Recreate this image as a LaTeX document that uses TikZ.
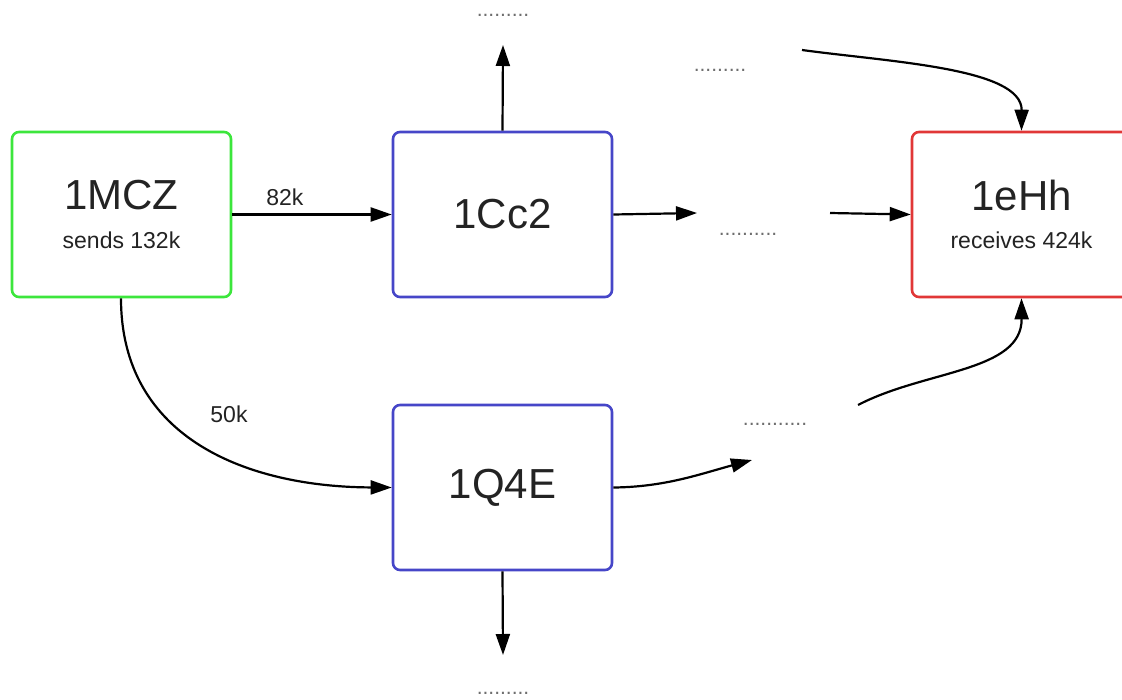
\documentclass[tikz,border=0pt]{standalone}
\usepackage{fontspec}
\setmainfont{Liberation Sans}
\usetikzlibrary{arrows.meta}
\definecolor{boxgreen}{RGB}{60,230,60}
\definecolor{boxblue}{RGB}{70,70,200}
\definecolor{boxred}{RGB}{225,55,55}
\definecolor{ink}{RGB}{35,35,35}
\definecolor{dotgray}{RGB}{110,110,110}
\tikzset{
  flowbox/.style={draw, line width=2.6pt, rounded corners=7pt, minimum width=219pt,
    minimum height=165pt, inner sep=0pt, fill=white, text=ink, align=center},
  bigname/.style={font=\fontsize{42}{48}\selectfont},
  flow/.style={line width=2.2pt, draw=black, -{Triangle[length=21pt,width=14pt]}},
  edgelabel/.style={text=ink, font=\fontsize{23}{26}\selectfont},
  elide/.style={text=dotgray, font=\fontsize{21}{22}\selectfont, inner sep=0pt}
}
\begin{document}
\begin{tikzpicture}[x=1pt,y=-1pt]
\useasboundingbox (0,0) rectangle (1122,699);
\clip (0,0) rectangle (1122,699);

% boxes
\node[flowbox, draw=boxgreen] (mcz) at (121.5,214.5) {};
\node[text=ink, bigname] (mczname) at (121.5,195) {1MCZ};
\node[edgelabel] (mczsub) at (121.5,240) {sends 132k};

\node[flowbox, draw=boxblue, bigname] (cc2) at (502.5,214.5) {1Cc2};
\node[flowbox, draw=boxblue, bigname] (q4e) at (502.5,487.5) {1Q4E};

\node[flowbox, draw=boxred] (ehh) at (1021.5,214.5) {};
\node[text=ink, bigname] (ehhname) at (1021.5,195) {1eHh};
\node[edgelabel] (ehhsub) at (1021.5,240) {receives 424k};

% elided continuations
\node[elide] (dtop) at (503,15) {.........};
\node[elide] (dnorth) at (720,70) {.........};
\node[elide] (dmid) at (748,234) {..........};
\node[elide] (dsouth) at (775,424) {...........};
\node[elide] (dbot) at (503,693) {.........};

% free ends of the open connectors
\coordinate (cc2up) at (503,45);
\coordinate (cc2out) at (697,213);
\coordinate (midin) at (830,213);
\coordinate (northin) at (802,50);
\coordinate (q4eout) at (752,460);
\coordinate (southin) at (858,405);
\coordinate (q4edown) at (503,655);

% connectors
\draw[flow] (mcz.east) -- (cc2.west) node[edgelabel, pos=0.33, above=4pt] (l82) {82k};
\draw[flow] (cc2.north) -- (cc2up);
\draw[flow] (cc2.east) -- (cc2out);
\draw[flow] (midin) -- (ehh.west);
\draw[flow] (northin) .. controls (890,62) and (1022,68) .. (ehh.north);
\draw[flow] (mcz.south -| 121,0) .. controls (121,440) and (250,487) .. (q4e.west);
\node[edgelabel] (l50) at (229,414) {50k};
\draw[flow] (q4e.east) .. controls (665,487) and (700,474) .. (q4eout);
\draw[flow] (southin) .. controls (925,370) and (1022,372) .. (ehh.south);
\draw[flow] (q4e.south) -- (q4edown);
\end{tikzpicture}
\end{document}
